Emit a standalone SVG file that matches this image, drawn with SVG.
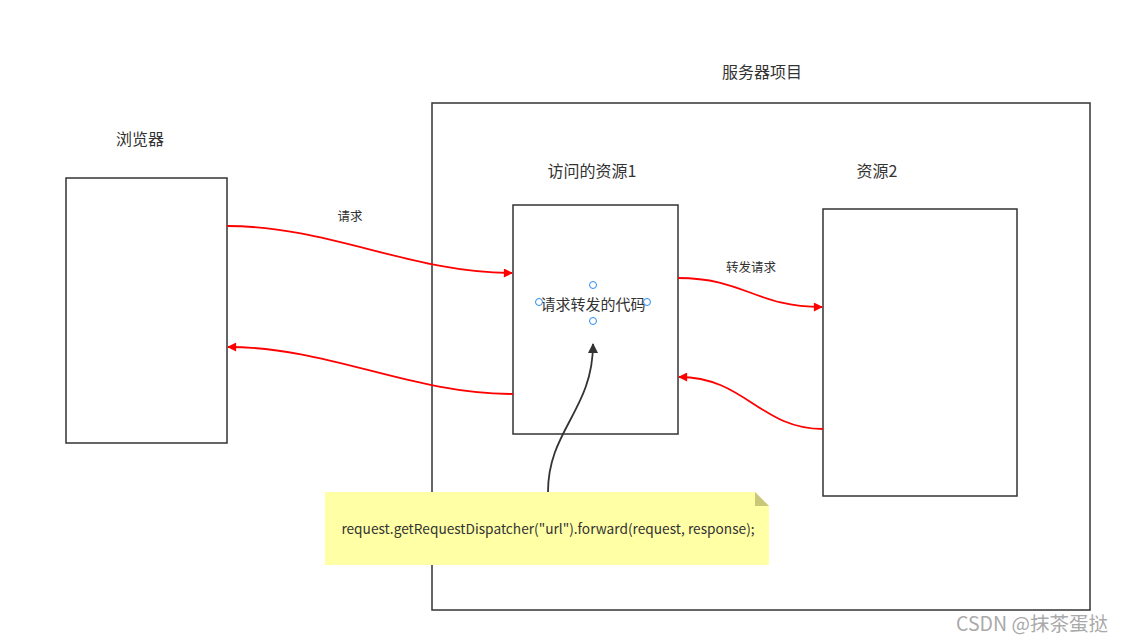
<svg xmlns="http://www.w3.org/2000/svg" width="1122" height="642" viewBox="0 0 1122 642">
<style>
.box{fill:#fff;stroke:#333;stroke-width:1.5}
.t{font-family:"Microsoft YaHei","Noto Sans CJK SC",sans-serif;fill:#333;text-anchor:middle}
.red{fill:none;stroke:#ff0000;stroke-width:1.8}
.blk{fill:none;stroke:#333;stroke-width:1.8}
.h{fill:#fff;stroke:#2a8cf0;stroke-width:1}
</style>
<defs>
<marker id="ar" viewBox="0 0 10 10" refX="9" refY="5" markerWidth="10" markerHeight="9" markerUnits="userSpaceOnUse" orient="auto"><path d="M0,0 L10,5 L0,10 Z" fill="#ff0000"/></marker>
<marker id="ab" viewBox="0 0 10 10" refX="9" refY="5" markerWidth="10" markerHeight="10" markerUnits="userSpaceOnUse" orient="auto"><path d="M0,0 L10,5 L0,10 Z" fill="#333"/></marker>
</defs>
<rect width="1122" height="642" fill="#fff"/>
<g id="server"><rect class="box" x="432" y="103" width="658" height="507" fill="none"/><text class="t" x="762" y="78" font-size="16">服务器项目</text></g>
<g id="browser"><rect class="box" x="66" y="178" width="161" height="265"/><text class="t" x="140" y="145" font-size="16">浏览器</text></g>
<g id="res1"><rect class="box" x="513" y="205" width="165" height="229"/><text class="t" x="592" y="177" font-size="16">访问的资源1</text><text class="t" x="593" y="310" font-size="15">请求转发的代码</text>
<circle class="h" cx="593" cy="285" r="3.5"/><circle class="h" cx="593" cy="321" r="3.5"/><circle class="h" cx="539" cy="302" r="3.5"/><circle class="h" cx="647" cy="302" r="3.5"/></g>
<g id="res2"><rect class="box" x="823" y="209" width="194" height="287"/><text class="t" x="877" y="177" font-size="16">资源2</text></g>
<g id="connectors">
<path class="red" d="M227,226 C330,226 410,273 512,273" marker-end="url(#ar)"/>
<path class="red" d="M513,394 C410,394 330,347 228,347" marker-end="url(#ar)"/>
<path class="red" d="M678,278 C745,278 755,307 822,307" marker-end="url(#ar)"/>
<path class="red" d="M823,429 C760,429 745,377 679,377" marker-end="url(#ar)"/>
<text class="t" x="350" y="221" font-size="12.5">请求</text>
<text class="t" x="751" y="272" font-size="12.5">转发请求</text>
</g>
<g id="note">
<path d="M325,492 H755 L769,506 V565 H325 Z" fill="#ffffa6"/>
<path d="M755,492 L769,506 H755 Z" fill="#c8c878"/>
<text class="t" x="548" y="534" font-size="13.7">request.getRequestDispatcher("url").forward(request, response);</text>
</g>
<g id="pointer"><path class="blk" d="M548,492 C548,430 593,410 593,344" marker-end="url(#ab)"/></g>
<text x="1032" y="631" font-family="Microsoft YaHei,Noto Sans CJK SC,sans-serif" font-size="19.5" fill="#aaa" text-anchor="middle">CSDN @抹茶蛋挞</text>
</svg>
